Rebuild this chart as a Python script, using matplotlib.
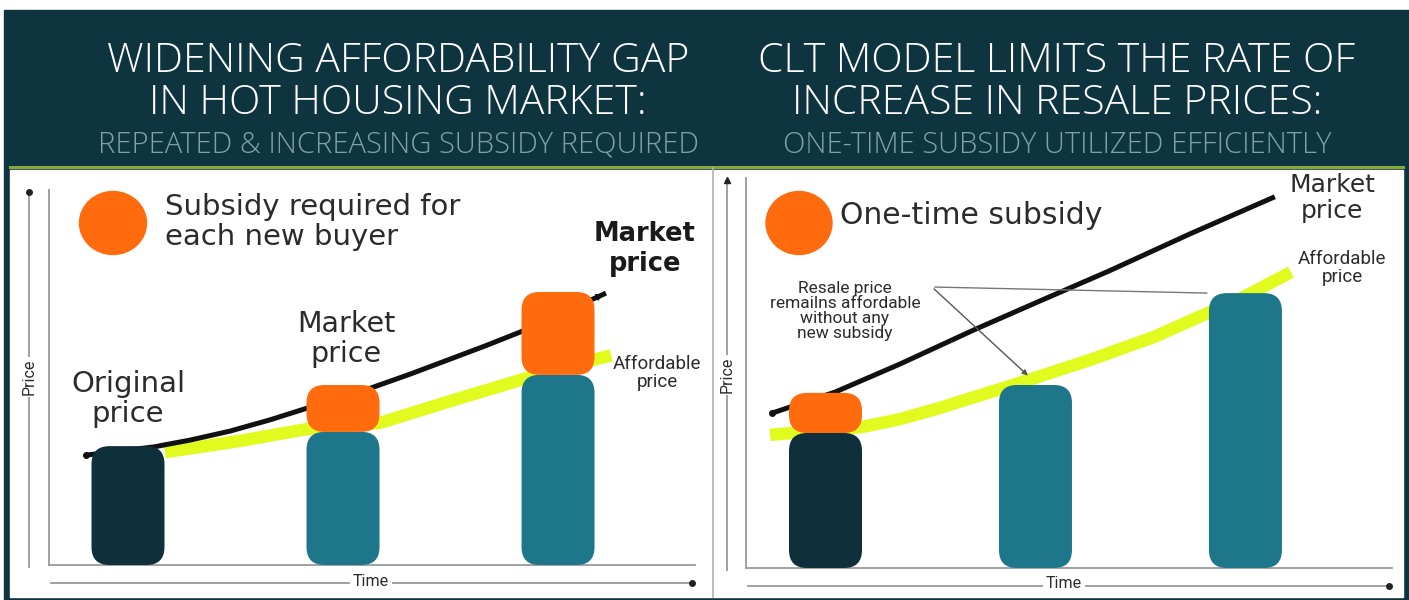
import matplotlib.pyplot as plt
from matplotlib.patches import FancyBboxPatch, Ellipse, Rectangle
import numpy as np

W, H = 1409, 600

# bars: time period on x, price on y (0-100)
periods = [1, 2, 3]
left_affordable = [31.7, 35.5, 50.7]
left_subsidy = [0.0, 12.5, 22.1]
right_resale = [36.0, 48.8, 73.3]
right_subsidy = [10.7, 0.0, 0.0]

# market / affordable price curves
left_market_t = [0.805, 0.963, 1.121, 1.288, 1.474, 1.660, 1.837, 1.986, 2.130,
                 2.312, 2.498, 2.660, 2.823, 3.009, 3.223]
left_market = [29.3, 30.4, 31.5, 33.3, 35.7, 38.7, 41.9, 44.5, 47.2,
               50.9, 54.9, 58.4, 62.1, 66.9, 72.5]
left_afford_t = [1.172, 1.521, 1.837, 2.172, 2.498, 2.823, 3.009, 3.247]
left_afford = [30.1, 33.1, 36.3, 37.9, 43.7, 49.3, 52.5, 55.9]

right_market_t = [0.745, 1.045, 1.355, 1.707, 2.021, 2.350, 2.736, 3.140]
right_market = [41.3, 46.9, 54.4, 63.5, 71.2, 79.2, 89.1, 99.0]
right_afford_t = [0.736, 1.174, 1.355, 1.545, 1.921, 2.260, 2.564, 2.993, 3.217]
right_afford = [35.5, 37.6, 39.7, 42.7, 49.3, 55.5, 61.6, 72.3, 78.9]

DARK = '#0e3440'
BAR_DARK = '#0f2f3a'
TEAL = '#1d7689'
ORANGE = '#ff6b0d'
YELLOW = '#e2fb1e'
TXT = '#2b2b2b'
GRAY = '#9a9a9a'

LABEL_FONT = ['DejaVu Sans']
TITLE_FONT = ['Open Sans', 'Lato', 'DejaVu Sans']
NARROW_FONT = ['Liberation Sans Narrow', 'Roboto', 'DejaVu Sans']

fig = plt.figure(figsize=(W / 100, H / 100), dpi=100)
fig.patch.set_facecolor('white')

# background layer in pixel coordinates
bg = fig.add_axes([0, 0, 1, 1])
bg.set_xlim(0, W)
bg.set_ylim(H, 0)
bg.axis('off')
bg.add_patch(Rectangle((4, 10), W - 4, H - 10, color=DARK, zorder=0))
bg.add_patch(Rectangle((10, 170), 1393, 427, color='white', zorder=1))
bg.plot([10, 1403], [167, 167], color='#86a83a', lw=2.2, zorder=2)
bg.plot([713, 713], [168, 597], color='#b0b0b0', lw=1.2, zorder=2)


def px(x, y):
    return x / W, 1 - y / H


def title(cx, lines, sub):
    for y, s in zip([62, 103], lines):
        fig.text(*px(cx, y), s, ha='center', va='center', color='white',
                 fontsize=29.5, fontweight='light', family=TITLE_FONT)
    fig.text(*px(cx, 145), sub, ha='center', va='center', color='#7fa2a8',
             fontsize=21, fontweight='light', family=TITLE_FONT)


title(398, ['WIDENING AFFORDABILITY GAP', 'IN HOT HOUSING MARKET:'],
      'REPEATED & INCREASING SUBSIDY REQUIRED')
title(1057, ['CLT MODEL LIMITS THE RATE OF', 'INCREASE IN RESALE PRICES:'],
      'ONE-TIME SUBSIDY UTILIZED EFFICIENTLY')


def frame(x_out, x_in, y_top, y_base, y_arrow, x_right, time_x, price_y, arrow_top):
    bg.plot([x_in, x_in], [y_top, y_base], color=GRAY, lw=1.3, zorder=2)
    bg.plot([x_in, x_right], [y_base, y_base], color=GRAY, lw=1.3, zorder=2)
    bg.plot([x_out, x_out], [y_top + 2, y_base + 2], color=GRAY, lw=1.3, zorder=2)
    bg.plot([x_in + 2, x_right - 3], [y_arrow, y_arrow], color=GRAY, lw=1.3, zorder=2)
    bg.plot([x_right - 3], [y_arrow], 'o', color='#222', ms=4, zorder=3)
    if arrow_top:
        bg.plot([x_out], [y_top + 2], '^', color='#222', ms=4, zorder=3)
    else:
        bg.plot([x_out], [y_top + 2], 'o', color='#222', ms=4, zorder=3)
    bg.text(time_x, y_arrow - 2, 'Time', ha='center', va='center', fontsize=11.5,
            color=TXT, family=NARROW_FONT, zorder=4,
            bbox=dict(fc='white', ec='none', pad=2))
    bg.text(x_out, price_y, 'Price', ha='center', va='center', fontsize=11.5,
            rotation=90, color=TXT, family=NARROW_FONT, zorder=4,
            bbox=dict(fc='white', ec='none', pad=1))


frame(29, 49, 190, 565, 583, 695, 371, 377, False)
frame(727, 746, 178, 568, 586, 1392, 1064, 375, True)


def panel(box, xlim, base, subsidy, mk_t, mk, af_t, af, end_marker):
    x0, y0, x1, y1 = box
    ax = fig.add_axes([x0 / W, 1 - y1 / H, (x1 - x0) / W, (y1 - y0) / H])
    ax.set_xlim(*xlim)
    ax.set_ylim(0, 100)
    ax.axis('off')
    ax.patch.set_alpha(0)
    # data units per pixel -> aspect for rounded corners
    asp = (100 / (y1 - y0)) / ((xlim[1] - xlim[0]) / (x1 - x0))
    r = 18 * (xlim[1] - xlim[0]) / (x1 - x0)
    w = 73 * (xlim[1] - xlim[0]) / (x1 - x0)
    ax.plot(af_t, af, color=YELLOW, lw=9, solid_capstyle='butt',
            solid_joinstyle='round', zorder=1, clip_on=False)
    ax.plot(mk_t, mk, color='#111', lw=3.6, solid_capstyle='butt',
            solid_joinstyle='round', zorder=2, clip_on=False)
    ax.plot(mk_t[0], mk[0], 'o', color='#111', ms=4, zorder=2, clip_on=False)
    if end_marker:
        ax.annotate('', xy=(mk_t[-1], mk[-1]),
                    xytext=(mk_t[-2] + 0.6 * (mk_t[-1] - mk_t[-2]), mk[-2] + 0.6 * (mk[-1] - mk[-2])),
                    arrowprops=dict(arrowstyle='-|>', color='#111', lw=0, mutation_scale=14),
                    zorder=2)
    for i, (t, b, s) in enumerate(zip(periods, base, subsidy)):
        color = BAR_DARK if i == 0 else TEAL
        ax.add_patch(FancyBboxPatch((t - w / 2, 0), w, b,
                                    boxstyle=f'round,pad=0,rounding_size={r}',
                                    mutation_aspect=asp, fc=color, ec='none', zorder=3))
        if s > 0:
            ax.add_patch(FancyBboxPatch((t - w / 2, b), w, s,
                                        boxstyle=f'round,pad=0,rounding_size={r}',
                                        mutation_aspect=asp, fc=ORANGE, ec='none', zorder=3))
    return ax


left = panel((49, 190, 695, 565), (0.6326, 3.637), left_affordable, left_subsidy,
             left_market_t, left_market, left_afford_t, left_afford, True)
right = panel((746, 193, 1392, 568), (0.6214, 3.698), right_resale, right_subsidy,
              right_market_t, right_market, right_afford_t, right_afford, False)

# legend blobs
bg.add_patch(Ellipse((113, 223), 67, 63, color=ORANGE, zorder=3))
bg.add_patch(Ellipse((799, 223), 66, 63, color=ORANGE, zorder=3))

# labels
fig.text(*px(165, 222), 'Subsidy required for\neach new buyer', ha='left', va='center',
         fontsize=21, color=TXT, family=LABEL_FONT, linespacing=1.12)
fig.text(*px(840, 216), 'One-time subsidy', ha='left', va='center',
         fontsize=21.5, color=TXT, family=LABEL_FONT)
fig.text(*px(128, 399), 'Original\nprice', ha='center', va='center',
         fontsize=21, color=TXT, family=LABEL_FONT, linespacing=1.1)
fig.text(*px(346, 339), 'Market\nprice', ha='center', va='center',
         fontsize=20.5, color=TXT, family=LABEL_FONT, linespacing=1.12)
fig.text(*px(645, 249), 'Market\nprice', ha='center', va='center',
         fontsize=18.5, color='#1a1a1a', family=LABEL_FONT, fontweight='bold', linespacing=1.2)
fig.text(*px(657, 373), 'Affordable\nprice', ha='center', va='center',
         fontsize=13.5, color=TXT, family=NARROW_FONT, linespacing=1.05)
fig.text(*px(1332, 198), 'Market\nprice', ha='center', va='center',
         fontsize=18, color=TXT, family=LABEL_FONT, linespacing=1.1)
fig.text(*px(1342, 268), 'Affordable\nprice', ha='center', va='center',
         fontsize=13.5, color=TXT, family=NARROW_FONT, linespacing=1.05)
fig.text(*px(845, 311), 'Resale price\nremailns affordable\nwithout any\nnew subsidy',
         ha='center', va='center', fontsize=12.5, color=TXT, family=NARROW_FONT, linespacing=1.0)

# annotation arrows from the note to resale bars
start = right.transData.inverted().transform(fig.transFigure.transform(px(932, 287)))
right.annotate('', xy=(1.974, right_resale[1] + 2), xytext=start,
               arrowprops=dict(arrowstyle='-|>', color='#555', lw=1, mutation_scale=8),
               annotation_clip=False)
right.annotate('', xy=(periods[2] - 0.17, right_resale[2]), xytext=start,
               arrowprops=dict(arrowstyle='-', color='#777', lw=1),
               annotation_clip=False)

fig.savefig('out.png', dpi=100, facecolor='white')
